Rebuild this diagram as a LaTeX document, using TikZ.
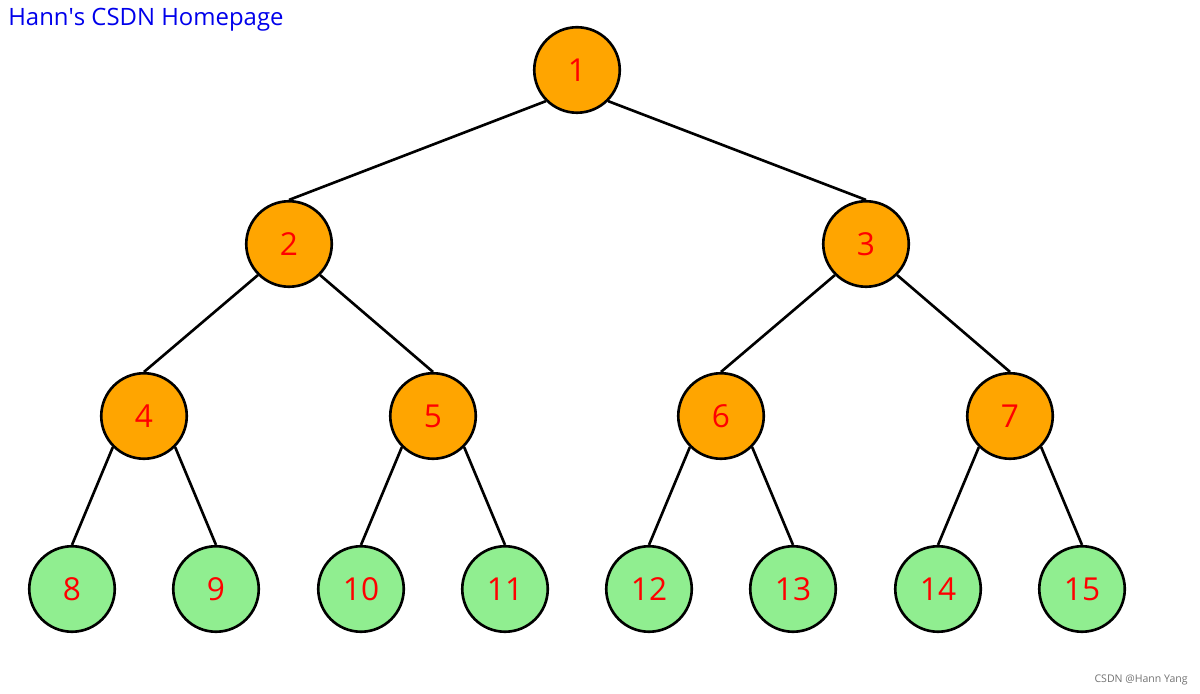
\documentclass[tikz,border=0pt]{standalone}
\usepackage{fontspec}
\setmainfont{Open Sans}
\definecolor{heaporange}{RGB}{255,165,0}
\definecolor{heapgreen}{RGB}{144,238,144}
\definecolor{titleblue}{RGB}{0,0,235}
\begin{document}
\begin{tikzpicture}[
		inner/.style={circle, draw, line width=1.5pt, fill=heaporange, minimum size=1.71cm, inner sep=0pt, text=red, font=\fontsize{18}{20}\selectfont},
		leaf/.style={inner, fill=heapgreen},
		link/.style={line width=1.5pt}]
		\useasboundingbox[fill=white] (0,0) rectangle (24,13.86);

		%% title
		\node[anchor=west, inner sep=0pt, text=titleblue, font=\fontsize{13.6}{15}\selectfont] at (0.16,13.46)(title){Hann\textquotesingle s CSDN Homepage};

		%% level 0
		\node[inner] at (11.54,12.46)(n1){1};

		%% level 1
		\node[inner] at (5.78,8.98)(n2){2};
		\node[inner] at (17.32,8.98)(n3){3};

		%% level 2
		\node[inner] at (2.88,5.54)(n4){4};
		\node[inner] at (8.66,5.54)(n5){5};
		\node[inner] at (14.42,5.54)(n6){6};
		\node[inner] at (20.2,5.54)(n7){7};

		%% level 3
		\node[leaf] at (1.44,2.08)(n8){8};
		\node[leaf] at (4.32,2.08)(n9){9};
		\node[leaf] at (7.22,2.08)(n10){10};
		\node[leaf] at (10.10,2.08)(n11){11};
		\node[leaf] at (12.98,2.08)(n12){12};
		\node[leaf] at (15.86,2.08)(n13){13};
		\node[leaf] at (18.76,2.08)(n14){14};
		\node[leaf] at (21.64,2.08)(n15){15};

		%% links: left child from south west, right child from south east
		\draw[link] (n1.south west)--(n2.north) (n1.south east)--(n3.north)
			(n2.south west)--(n4.north) (n2.south east)--(n5.north)
			(n3.south west)--(n6.north) (n3.south east)--(n7.north)
			(n4.south west)--(n8.north) (n4.south east)--(n9.north)
			(n5.south west)--(n10.north) (n5.south east)--(n11.north)
			(n6.south west)--(n12.north) (n6.south east)--(n13.north)
			(n7.south west)--(n14.north) (n7.south east)--(n15.north);

		%% watermark
		\node[anchor=east, inner sep=0pt, text=black!55, font=\fontsize{6}{7}\selectfont] at (23.76,0.26)(mark){CSDN @Hann Yang};
	\end{tikzpicture}
\end{document}
